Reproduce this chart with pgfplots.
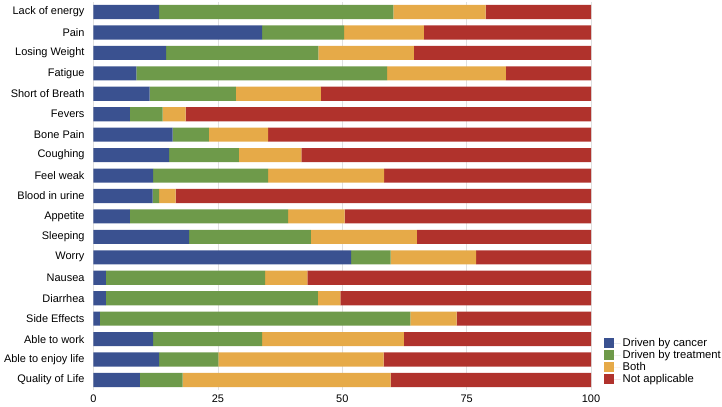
\documentclass[border=0pt]{standalone}
\usepackage{pgfplots}
\pgfplotsset{compat=1.18}
\usepackage{pgfplotstable}
\usepackage{fontspec}
\setmainfont{Liberation Sans}
\definecolor{cblue}{HTML}{3A5190}
\definecolor{cgreen}{HTML}{6E9A4A}
\definecolor{corange}{HTML}{E6AA48}
\definecolor{cred}{HTML}{B0322C}
\pgfplotstableread{
y cancer treatment both na
0  9.3  8.6 41.8 40.3
1 13.2 11.9 33.2 41.7
2 12.0 21.9 28.5 37.6
3  1.3 62.4  9.3 27.0
4  2.5 42.6  4.5 50.4
5  2.5 32.0  8.5 57.0
6 51.8  7.9 17.2 23.1
7 19.2 24.5 21.3 35.0
8  7.3 31.8 11.4 49.5
9 11.9  1.3  3.3 83.5
10 12.0 23.1 23.3 41.6
11 15.2 14.0 12.6 58.2
12 15.9  7.3 11.9 64.9
13  7.3  6.6  4.6 81.5
14 11.3 17.3 17.1 54.3
15  8.6 50.4 23.9 17.1
16 14.6 30.6 19.2 35.6
17 33.9 16.5 16.0 33.6
18 13.2 47.1 18.5 21.2
}\datatable
\begin{document}
\begin{tikzpicture}
\useasboundingbox (-93.5bp,-16.8bp) rectangle (628.5bp,390.2bp);
\begin{axis}[
  scale only axis,
  width=497.5bp, height=388.4bp,
  xbar stacked,
  bar width=0.69,
  xmin=0, xmax=100,
  ymin=-0.5, ymax=18.5,
  xtick={0,25,50,75,100},
  ytick={0,...,18},
  yticklabels={Quality of Life,Able to enjoy life,Able to work,Side Effects,Diarrhea,Nausea,Worry,Sleeping,Appetite,Blood in urine,Feel weak,Coughing,Bone Pain,Fevers,Short of Breath,Fatigue,Losing Weight,Pain,Lack of energy},
  axis line style={draw=none},
  major tick length=0,
  xmajorgrids,
  grid style={draw=black!12, line width=0.6pt},
  tick label style={font=\fontsize{11}{12}\selectfont},
  /pgf/number format/assume math mode=true,
  yticklabel style={xshift=-5.5bp},
  xticklabel style={yshift=-1bp},
  legend style={draw=none, fill=none, at={(1.026,0.01)}, anchor=south west,
    font=\fontsize{11.3}{11}\selectfont, legend cell align=left, inner sep=0pt,
    row sep=-1.6pt},
  legend image code/.code={\fill[#1] (0bp,-5bp) rectangle (10bp,5bp); \path (0bp,0bp) -- (16.5bp,0bp);},
  every axis plot/.append style={draw=none},
]
\addplot[fill=cblue] table[x=cancer,y=y]{\datatable};
\addplot[fill=cgreen] table[x=treatment,y=y]{\datatable};
\addplot[fill=corange] table[x=both,y=y]{\datatable};
\addplot[fill=cred] table[x=na,y=y]{\datatable};
\legend{Driven by cancer,Driven by treatment,Both,Not applicable}
\end{axis}
\end{tikzpicture}
\end{document}
